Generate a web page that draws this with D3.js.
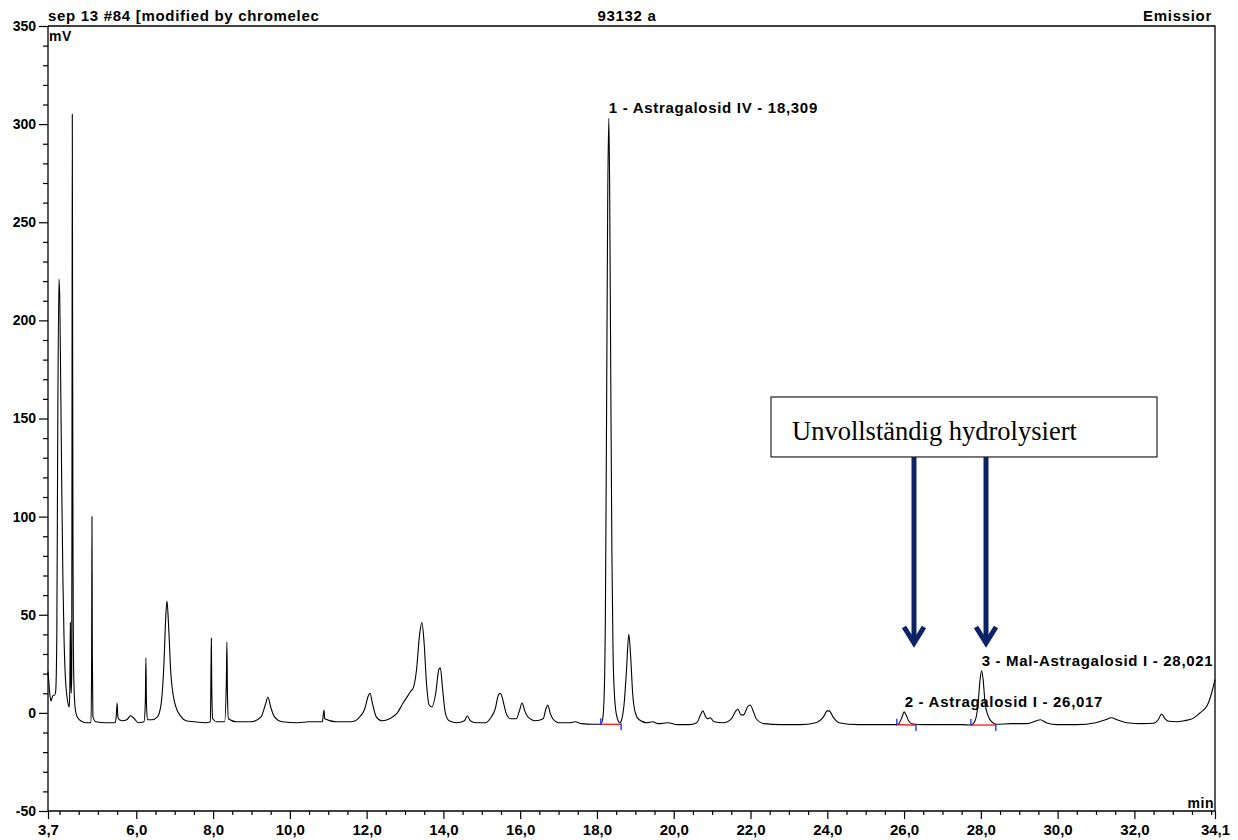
<!DOCTYPE html>
<html><head><meta charset="utf-8">
<script src="https://cdn.jsdelivr.net/npm/d3@7"></script>
<style>
body{margin:0;background:#fff;}
svg{display:block;}
text{font-family:"Liberation Sans",Arial,sans-serif;font-weight:bold;fill:#000;}
</style>
</head><body>
<svg id="chart" width="1238" height="840"></svg>
<script>
// ---------- DATA ----------
const headerTexts = ["sep 13 #84 [modified by chromelec", "93132 a", "Emissior"];
const yUnit = "mV";
const xUnit = "min";

// chromatogram trace: [retention time (min), signal (mV)]
const tracePoints = [
[3.70,21],[3.72,16],[3.75,9],[3.78,6],[3.81,8],[3.84,9],[3.87,9],[3.90,11],[3.93,40],[3.955,150],[3.985,221],[4.005,212],[4.03,170],[4.06,112],[4.09,66],[4.12,36],[4.15,19],[4.19,9],[4.23,4],[4.255,3],[4.27,15],[4.282,46],[4.295,18],[4.305,10],[4.318,20],[4.326,160],[4.333,305],[4.34,210],[4.35,90],[4.36,35],[4.38,12],[4.41,2],[4.46,-2],[4.55,-4],[4.70,-5],[4.82,-5],[4.835,20],[4.845,100],[4.855,30],[4.87,-2],[4.95,-4.5],[5.2,-5],[5.45,-5],[5.48,-1],[5.50,5],[5.52,-2],[5.56,-3.5],[5.65,-4],[5.75,-3.5],[5.85,-1.5],[5.95,-3],[6.05,-5],[6.20,-4.5],[6.235,5],[6.25,28],[6.265,5],[6.29,-3.5],[6.40,-3.5],[6.55,-2],[6.65,5],[6.72,25],[6.77,50],[6.80,57],[6.84,45],[6.90,20],[6.97,8],[7.05,2],[7.15,-1.5],[7.30,-4],[7.50,-4.5],[7.80,-5],[7.93,-4.5],[7.945,20],[7.955,38],[7.965,15],[7.99,-3],[8.10,-4.5],[8.30,-4.5],[8.345,15],[8.36,36],[8.375,10],[8.40,-3],[8.6,-4.5],[9.0,-4.5],[9.25,-2],[9.36,4],[9.43,8],[9.50,3],[9.60,-2],[9.8,-4.5],[10.2,-5],[10.5,-4.5],[10.85,-4.5],[10.87,-1],[10.89,1.5],[10.91,-3],[11.2,-4.5],[11.6,-4.5],[11.8,-2.5],[11.95,2],[12.05,9],[12.09,10],[12.15,5],[12.25,-2],[12.4,-4],[12.6,-3],[12.8,0],[12.95,5],[13.05,8],[13.15,11],[13.22,13],[13.30,22],[13.38,40],[13.44,46],[13.50,35],[13.56,15],[13.63,4],[13.70,3],[13.80,10],[13.88,22],[13.92,23],[13.98,12],[14.05,0],[14.15,-4],[14.35,-5],[14.55,-4],[14.62,-1.5],[14.70,-4],[14.85,-5],[15.10,-5],[15.25,-2],[15.35,2],[15.43,9],[15.48,10],[15.53,8],[15.58,4],[15.65,-1],[15.75,-3],[15.90,-3],[15.98,1],[16.05,5],[16.12,1],[16.20,-2],[16.40,-4],[16.60,-3],[16.67,2],[16.72,4],[16.78,0],[16.85,-3],[17.0,-5],[17.3,-5],[17.43,-4.5],[17.6,-5.5],[17.9,-5.8],[18.10,-5.8],[18.15,-3],[18.19,10],[18.22,50],[18.25,150],[18.28,260],[18.309,303],[18.33,270],[18.36,170],[18.39,80],[18.42,30],[18.46,8],[18.52,-2],[18.60,-5],[18.65,-3],[18.71,5],[18.77,22],[18.83,40],[18.88,28],[18.93,10],[19.0,0],[19.1,-3.5],[19.3,-5],[19.45,-4.5],[19.6,-5.5],[19.85,-5],[20.1,-6],[20.4,-6],[20.6,-5],[20.70,-1],[20.76,1],[20.82,-1.5],[20.88,-3],[20.95,-2.5],[21.05,-4.5],[21.3,-5],[21.5,-3],[21.62,1],[21.67,2],[21.75,-1],[21.82,-1],[21.92,3],[21.99,4],[22.05,2],[22.15,-3],[22.35,-5.5],[22.8,-6],[23.3,-6],[23.7,-5],[23.9,-2],[24.0,1],[24.05,1],[24.15,-2],[24.3,-5],[24.8,-6],[25.3,-6],[25.81,-6],[25.88,-5],[25.95,-2],[26.0,0.5],[26.05,-1],[26.12,-4],[26.2,-5.5],[26.5,-6],[27.0,-6],[27.5,-6],[27.74,-6.2],[27.85,-4],[27.93,5],[27.98,17],[28.02,21.5],[28.06,17],[28.11,5],[28.18,-1],[28.28,-4.5],[28.4,-5.8],[28.8,-5.5],[29.2,-5.5],[29.45,-4],[29.55,-3.5],[29.7,-5],[30.0,-6],[30.5,-6],[31.0,-5],[31.25,-3.5],[31.4,-2.5],[31.55,-3.5],[31.8,-5],[32.2,-5.5],[32.5,-5.3],[32.62,-3.5],[32.71,-0.6],[32.8,-3],[32.9,-4.3],[33.1,-4.5],[33.3,-4],[33.53,-2.8],[33.65,-1],[33.75,0.6],[33.88,3.2],[33.95,6.2],[34.01,10],[34.05,13],[34.1,17]
];

// identified peaks
const peakNames   = ["1 - Astragalosid IV - 18,309", "2 - Astragalosid I - 26,017", "3 - Mal-Astragalosid I - 28,021"];
const peakTimes   = [18.309, 26.017, 28.021];
const peakHeights = [303, 0.5, 21.5];
// integration baselines
const peakStartTimes = [18.10, 25.81, 27.74];
const peakEndTimes   = [18.63, 26.31, 28.39];
const peakStartMV    = [-5.8, -6.0, -6.2];
const peakEndMV      = [-5.8, -6.2, -6.2];

// axes
const xDomain = [3.7, 34.1];
const yDomain = [-50, 350];
const xTickValues = [3.7, 6, 8, 10, 12, 14, 16, 18, 20, 22, 24, 26, 28, 30, 32, 34.1];
const xTickLabels = ["3,7","6,0","8,0","10,0","12,0","14,0","16,0","18,0","20,0","22,0","24,0","26,0","28,0","30,0","32,0","34,1"];
const yTickValues = [-50, 0, 50, 100, 150, 200, 250, 300, 350];
const yTickLabels = ["-50","0","50","100","150","200","250","300","350"];
const xMinorStep = 0.5;
const yMinorStep = 10;

// annotation (data units)
const annotationText = "Unvollständig hydrolysiert";
const annotationBoxTimes = [22.534, 32.589];
const annotationBoxMV = [160.97, 130.4];
const arrowTimes = [26.259, 28.135];
const arrowTipMV = 34.6;

// ---------- LAYOUT ----------
const plot = {left: 48, right: 1215, top: 26, bottom: 811};
const svg = d3.select("#chart");
const FONT = '"Liberation Sans",Arial,sans-serif';

const x = d3.scaleLinear().domain(xDomain).range([plot.left, plot.right]);
const y = d3.scaleLinear().domain(yDomain).range([plot.bottom, plot.top]);

// frame (top and right)
svg.append("path")
  .attr("d", `M${plot.left},${plot.top}H${plot.right}V${plot.bottom}`)
  .attr("fill", "none").attr("stroke", "#000").attr("stroke-width", 1.3);

// x axis: minor ticks
const xMinor = d3.range(4.0, 34.1, xMinorStep).filter(v => !xTickValues.some(t => Math.abs(t - v) < 1e-6));
svg.append("g").attr("transform", `translate(0,${plot.bottom})`)
  .call(d3.axisBottom(x).tickValues(xMinor).tickSize(4).tickFormat(""))
  .call(g => g.select(".domain").remove())
  .selectAll("line").attr("stroke-width", 1.2);
// x axis: major ticks with labels
const gx = svg.append("g").attr("transform", `translate(0,${plot.bottom})`)
  .call(d3.axisBottom(x).tickValues(xTickValues).tickSize(8).tickPadding(5)
        .tickFormat((d, i) => xTickLabels[i]));
gx.select(".domain").attr("d", `M${plot.left},0H${plot.right}`).attr("stroke-width", 1.3);
gx.selectAll("line").attr("stroke-width", 1.2);
gx.selectAll("text").style("font-size", "15px").style("letter-spacing", "0px")
  .style("font-family", FONT).style("font-weight", "bold").attr("fill", "#000");

// y axis minor
const yMinor = d3.range(-40, 350, yMinorStep).filter(v => v % 50 !== 0);
svg.append("g").attr("transform", `translate(${plot.left},0)`)
  .call(d3.axisLeft(y).tickValues(yMinor).tickSize(5).tickFormat(""))
  .call(g => g.select(".domain").remove())
  .selectAll("line").attr("stroke-width", 1.2);
const gy = svg.append("g").attr("transform", `translate(${plot.left},0)`)
  .call(d3.axisLeft(y).tickValues(yTickValues).tickSize(9).tickPadding(3)
        .tickFormat((d, i) => yTickLabels[i]));
gy.select(".domain").attr("d", `M0,${plot.bottom}V${plot.top}`).attr("stroke-width", 1.3);
gy.selectAll("line").attr("stroke-width", 1.2);
gy.selectAll("text").style("font-size", "14px").style("letter-spacing", "0px")
  .style("font-family", FONT).style("font-weight", "bold").attr("fill", "#000");

// header texts
const hdr = svg.append("g").style("font-size", "15px").style("letter-spacing", "0.7px");
hdr.append("text").attr("x", plot.left).attr("y", 21).attr("text-anchor", "start").text(headerTexts[0]);
hdr.append("text").attr("x", 627).attr("y", 21).attr("text-anchor", "middle").text(headerTexts[1]);
hdr.append("text").attr("x", plot.right - 3).attr("y", 21).attr("text-anchor", "end").text(headerTexts[2]);

// units
svg.append("text").attr("x", plot.left + 1).attr("y", 41).style("font-size", "14px").style("letter-spacing", "0.5px").text(yUnit);
svg.append("text").attr("x", plot.right - 1).attr("y", 808).attr("text-anchor", "end").style("font-size", "14px").style("letter-spacing", "0.5px").text(xUnit);

// chromatogram
const line = d3.line().x(d => x(d[0])).y(d => y(d[1])).curve(d3.curveMonotoneX);
svg.append("path").datum(tracePoints)
  .attr("d", line).attr("fill", "none").attr("stroke", "#000").attr("stroke-width", 1.1)
  .attr("stroke-linejoin", "round");

// integration baselines
peakStartTimes.forEach((t0, i) => {
  const t1 = peakEndTimes[i];
  svg.append("line")
    .attr("x1", x(t0)).attr("y1", y(peakStartMV[i]))
    .attr("x2", x(t1)).attr("y2", y(peakEndMV[i]))
    .attr("stroke", "#ff0000").attr("stroke-width", 1.2);
  svg.append("line")
    .attr("x1", x(t0)).attr("x2", x(t0))
    .attr("y1", y(peakStartMV[i]) - 6).attr("y2", y(peakStartMV[i]) + 1)
    .attr("stroke", "#1e3cff").attr("stroke-width", 1.4);
  svg.append("line")
    .attr("x1", x(t1)).attr("x2", x(t1))
    .attr("y1", y(peakEndMV[i]) - 1).attr("y2", y(peakEndMV[i]) + 6)
    .attr("stroke", "#1e3cff").attr("stroke-width", 1.4);
});

// peak labels
svg.append("g").selectAll("text").data(peakNames).join("text")
  .attr("x", (d, i) => x(peakTimes[i]))
  .attr("y", (d, i) => y(peakHeights[i]) - 5)
  .style("font-size", "15px").style("letter-spacing", "0.7px")
  .text(d => d);

// annotation box
const bx0 = x(annotationBoxTimes[0]), bx1 = x(annotationBoxTimes[1]);
const by0 = y(annotationBoxMV[0]), by1 = y(annotationBoxMV[1]);
svg.append("rect").attr("x", bx0).attr("y", by0).attr("width", bx1 - bx0).attr("height", by1 - by0)
  .attr("fill", "#fff").attr("stroke", "#222").attr("stroke-width", 1.2);
svg.append("text").attr("x", bx0 + 21).attr("y", by0 + 43)
  .style("font-family", '"Liberation Serif","Times New Roman",serif').style("font-weight", "normal")
  .style("font-size", "26.5px").text(annotationText);

// arrows
const navy = "#0b2265";
arrowTimes.forEach(t => {
  const ax = x(t), tip = y(arrowTipMV);
  svg.append("line").attr("x1", ax).attr("x2", ax).attr("y1", by1).attr("y2", tip - 3)
    .attr("stroke", navy).attr("stroke-width", 5);
  svg.append("path").attr("d", `M${ax - 10},${tip - 18}L${ax},${tip - 2}L${ax + 10},${tip - 18}`)
    .attr("fill", "none").attr("stroke", navy).attr("stroke-width", 5)
    .attr("stroke-linejoin", "miter").attr("stroke-linecap", "butt");
});
</script>
</body></html>
